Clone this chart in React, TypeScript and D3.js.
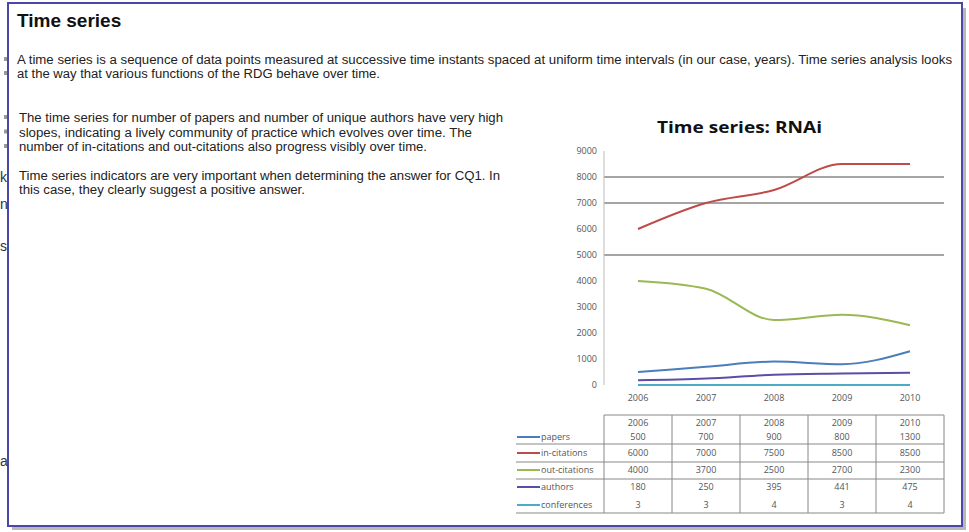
import React from "react";
import * as d3 from "d3";

const years = ["2006", "2007", "2008", "2009", "2010"];
const seriesNames = ["papers", "in-citations", "out-citations", "authors", "conferences"];
const papers = [500, 700, 900, 800, 1300];
const inCitations = [6000, 7000, 7500, 8500, 8500];
const outCitations = [4000, 3700, 2500, 2700, 2300];
const authors = [180, 250, 395, 441, 475];
const conferences = [3, 3, 4, 3, 4];
const seriesColors = ["#4a7ebb", "#be4b48", "#98b954", "#5a4ea6", "#4bacc6"];
const yTicks = [0, 1000, 2000, 3000, 4000, 5000, 6000, 7000, 8000, 9000];
const gridValues = [5000, 7000, 8000];

const heading = "Time series";
const intro = [
  "A time series is a sequence of data points measured at successive time instants spaced at uniform time intervals (in our case, years). Time series analysis looks",
  "at the way that various functions of the RDG behave over time.",
];
const para2 = [
  "The time series for number of papers and number of unique authors have very high",
  "slopes, indicating a lively community of practice which evolves over time. The",
  "number of in-citations and out-citations also progress visibly over time.",
];
const para3 = [
  "Time series indicators are very important when determining the answer for CQ1. In",
  "this case, they clearly suggest a positive answer.",
];
const chartTitle = "Time series: RNAi";

const seriesValues = [papers, inCitations, outCitations, authors, conferences];

export default function App() {
  const x = d3.scaleBand<string>().domain(years).range([604, 944]);
  const cx = (yr: string) => (x(yr) as number) + x.bandwidth() / 2;
  const y = d3.scaleLinear().domain([0, 9000]).range([385, 151]);
  const line = d3
    .line<number>()
    .x((_, i) => cx(years[i]))
    .y((v) => y(v))
    .curve(d3.curveMonotoneX);

  const rowY = [440, 456, 473, 490, 508];
  const hLines = [415, 444, 462, 479, 513];
  const fontBody = "Liberation Sans, Arial, sans-serif";
  const fontChart = "Open Sans, DejaVu Sans, sans-serif";

  const introLen = [935, 363];
  const para2Len = [484, 453, 408];
  const para3Len = [481, 286];

  return (
    <svg
      width={969}
      height={532}
      style={{ position: "absolute", left: 0, top: 0, background: "#fff" }}
    >
      <rect x={0} y={0} width={969} height={532} fill="#fff" />
      {/* shadow */}
      <rect x={12} y={526} width={954} height={4} fill="#b8b8b8" />
      <rect x={962} y={8} width={4} height={522} fill="#b8b8b8" />
      {/* frame */}
      <rect x={8} y={3} width={954} height={523} fill="#fff" stroke="#4b47a8" strokeWidth={2} />

      {/* left edge fragments */}
      {[
        { t: "k", y: 182 },
        { t: "n", y: 209 },
        { t: "s", y: 251 },
        { t: "a", y: 466 },
      ].map((d, i) => (
        <text key={i} x={0} y={d.y} fontFamily={fontBody} fontSize={14} fill="#333">
          {d.t}
        </text>
      ))}

      <text x={17} y={27} fontFamily={fontBody} fontWeight="bold" fontSize={19} fill="#111">
        {heading}
      </text>

      {intro.map((t, i) => (
        <g key={i}>
          <rect x={4} y={57 + i * 14} width={3} height={4} fill="#999" />
          <text
            x={17}
            y={64 + i * 14}
            fontFamily={fontBody}
            fontSize={12.5}
            fill="#222"
            textLength={introLen[i]}
            lengthAdjust="spacingAndGlyphs"
          >
            {t}
          </text>
        </g>
      ))}

      {para2.map((t, i) => (
        <g key={i}>
          <rect x={4} y={115 + i * 14.5} width={3} height={4} fill="#999" />
          <text
            x={19}
            y={122 + i * 14.5}
            fontFamily={fontBody}
            fontSize={12.5}
            fill="#222"
            textLength={para2Len[i]}
            lengthAdjust="spacingAndGlyphs"
          >
            {t}
          </text>
        </g>
      ))}

      {para3.map((t, i) => (
        <text
          key={i}
          x={19}
          y={180 + i * 14}
          fontFamily={fontBody}
          fontSize={12.5}
          fill="#222"
          textLength={para3Len[i]}
          lengthAdjust="spacingAndGlyphs"
        >
          {t}
        </text>
      ))}

      {/* chart title */}
      <text
        x={657}
        y={133}
        fontFamily={fontChart}
        fontWeight="bold"
        fontSize={16}
        fill="#111"
        textLength={165}
        lengthAdjust="spacingAndGlyphs"
      >
        {chartTitle}
      </text>

      {/* grid lines */}
      {gridValues.map((v) => (
        <line key={v} x1={604} x2={944} y1={y(v)} y2={y(v)} stroke="#4a4a4a" strokeWidth={1} />
      ))}
      {/* y axis */}
      <line x1={604} x2={604} y1={151} y2={385} stroke="#bbb" strokeWidth={1} />
      {yTicks.map((v) => (
        <text
          key={v}
          x={597}
          y={y(v) + 3}
          textAnchor="end"
          fontFamily={fontChart}
          fontSize={9}
          fill="#555"
        >
          {v}
        </text>
      ))}
      {years.map((yr) => (
        <text
          key={yr}
          x={cx(yr)}
          y={401}
          textAnchor="middle"
          fontFamily={fontChart}
          fontSize={9}
          fill="#555"
        >
          {yr}
        </text>
      ))}

      {/* series */}
      {seriesValues.map((vals, i) => (
        <path
          key={i}
          d={line(vals) as string}
          fill="none"
          stroke={seriesColors[i]}
          strokeWidth={2}
          strokeLinejoin="round"
        />
      ))}

      {/* data table */}
      <g fontFamily={fontChart} fontSize={9} fill="#555">
        {hLines.map((hy, i) => (
          <line
            key={i}
            x1={i === 0 ? 604 : 516}
            x2={944}
            y1={hy}
            y2={hy}
            stroke="#888"
            strokeWidth={1}
          />
        ))}
        {[...years.map((yr) => x(yr) as number), 944].map((vx, i) => (
          <line key={i} x1={vx} x2={vx} y1={415} y2={513} stroke="#888" strokeWidth={1} />
        ))}
        {years.map((yr) => (
          <text key={yr} x={cx(yr)} y={426} textAnchor="middle">
            {yr}
          </text>
        ))}
        {seriesNames.map((name, r) => (
          <g key={name}>
            <line
              x1={517}
              x2={540}
              y1={rowY[r] - 3}
              y2={rowY[r] - 3}
              stroke={seriesColors[r]}
              strokeWidth={2}
            />
            <text x={541} y={rowY[r]}>
              {name}
            </text>
            {seriesValues[r].map((v, c) => (
              <text key={c} x={cx(years[c])} y={rowY[r]} textAnchor="middle">
                {v}
              </text>
            ))}
          </g>
        ))}
      </g>
    </svg>
  );
}
